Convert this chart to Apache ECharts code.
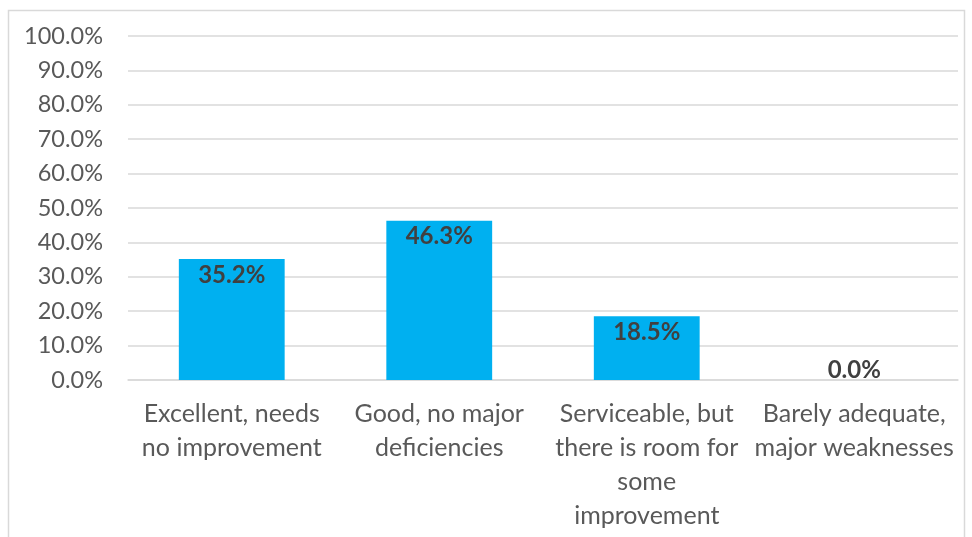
<!DOCTYPE html>
<html>
<head>
<meta charset="utf-8">
<script src="https://cdn.jsdelivr.net/npm/echarts@6/dist/echarts.min.js"></script>
<style>
html, body { margin: 0; padding: 0; background: #fff; }
#container { width: 972px; height: 537px; }
</style>
</head>
<body>
<div id="container"></div>
<script>
var categories = [
    'Excellent, needs\nno improvement',
    'Good, no major\ndeficiencies',
    'Serviceable, but\nthere is room for\nsome\nimprovement',
    'Barely adequate,\nmajor weaknesses'
];
var shares = [35.2, 46.3, 18.5, 0.0];
var yTicks = [0, 10, 20, 30, 40, 50, 60, 70, 80, 90, 100];

var dom = document.getElementById('container');
var myChart = echarts.init(dom);

var barData = shares.map(function (v) {
    return {
        value: v,
        label: { position: v > 0 ? 'insideTop' : 'top', distance: v > 0 ? 4 : -2 }
    };
});

var option = {
    backgroundColor: '#fff',
    animation: false,
    graphic: [{
        type: 'rect',
        shape: { x: 8.5, y: 10.5, width: 956, height: 540 },
        style: { fill: 'none', stroke: '#d9d9d9', lineWidth: 1.5 },
        silent: true
    }],
    grid: { left: 128, right: 14, top: 36, bottom: 157 },
    xAxis: {
        type: 'category',
        data: categories,
        axisLine: { show: true, lineStyle: { color: '#d9d9d9', width: 1.5 } },
        axisTick: { show: false },
        axisLabel: {
            interval: 0,
            margin: 17,
            color: '#595959',
            fontFamily: 'Lato',
            fontSize: 25,
            lineHeight: 34
        }
    },
    yAxis: {
        type: 'value',
        min: yTicks[0],
        max: yTicks[yTicks.length - 1],
        interval: 10,
        axisLine: { show: false },
        axisTick: { show: false },
        splitLine: { lineStyle: { color: '#d9d9d9', width: 1.5 } },
        axisLabel: {
            margin: 25,
            color: '#595959',
            fontFamily: 'Lato',
            fontSize: 23.5,
            formatter: function (v) { return v.toFixed(1) + '%'; }
        }
    },
    series: [{
        type: 'bar',
        data: barData,
        barWidth: '51%',
        itemStyle: { color: '#00b0f0' },
        label: {
            show: true,
            color: '#404040',
            fontFamily: 'Lato',
            fontWeight: 'bold',
            fontSize: 24,
            formatter: function (p) { return p.value.toFixed(1) + '%'; }
        }
    }]
};

myChart.setOption(option, true);
window.onresize = function () {
    myChart.resize();
};
</script>
</body>
</html>
